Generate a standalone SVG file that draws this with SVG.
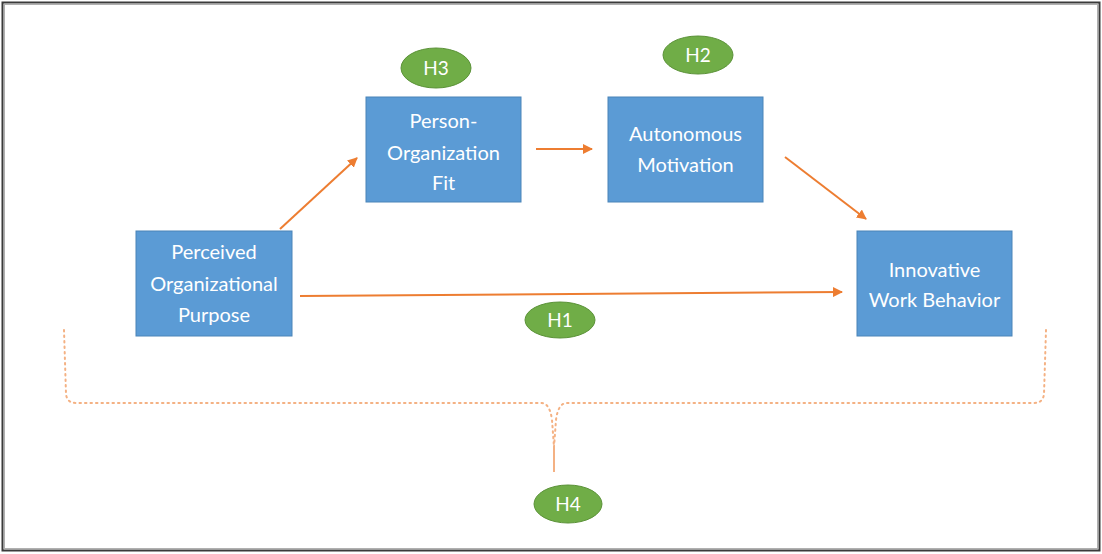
<svg xmlns="http://www.w3.org/2000/svg" width="1102" height="554" viewBox="0 0 1102 554">
  <style>
    .box { fill: #5b9bd5; stroke: #4a84b8; stroke-width: 1; }
    .box-label { fill: #ffffff; font-family: Lato, "Open Sans", sans-serif; font-size: 20px; text-anchor: middle; }
    .hyp { fill: #70ad47; stroke: #5b9238; stroke-width: 1; }
    .hyp-label { fill: #ffffff; font-family: Lato, "Open Sans", sans-serif; font-size: 19px; text-anchor: middle; }
    .link { stroke: #ed7d31; stroke-width: 2; fill: none; marker-end: url(#arrow); }
    .brace { stroke: #f4b183; stroke-width: 2; fill: none; stroke-dasharray: 1.5 4; stroke-linecap: round; }
  </style>
  <defs>
    <marker id="arrow" viewBox="0 0 10 10" refX="9" refY="5" markerWidth="5" markerHeight="5" orient="auto">
      <path d="M0,0 L10,5 L0,10 z" fill="#ed7d31"/>
    </marker>
  </defs>

  <!-- frame -->
  <rect x="0" y="0" width="1102" height="554" fill="#ffffff"/>
  <rect x="2.5" y="2.5" width="1097" height="548" fill="none" stroke="#3a3a3a" stroke-width="2"/>
  <rect x="4.5" y="4.5" width="1093" height="544" fill="none" stroke="#b0b0b0" stroke-width="1"/>

  <!-- connectors -->
  <g id="connectors">
    <line class="link" x1="280" y1="229" x2="357" y2="158"/>
    <line class="link" x1="536" y1="149" x2="592" y2="149"/>
    <line class="link" x1="785" y1="157" x2="866" y2="219"/>
    <line class="link" x1="300" y1="296" x2="842" y2="292"/>
    <path class="brace" d="M64,330 L66,394 Q67,403 76,403 L542,403 Q550,404 552,420 L554,447"/>
    <path class="brace" d="M1046,330 L1044,394 Q1043,403 1034,403 L566,403 Q558,404 556,420 L554,447"/>
    <line x1="554" y1="447" x2="554" y2="472" stroke="#f4b183" stroke-width="2"/>
  </g>

  <!-- nodes -->
  <g id="node-pop">
    <rect class="box" x="136" y="231" width="156" height="105"/>
    <text class="box-label" x="214" y="259">Perceived</text>
    <text class="box-label" x="214" y="291">Organizational</text>
    <text class="box-label" x="214" y="322">Purpose</text>
  </g>
  <g id="node-pof">
    <rect class="box" x="366" y="97" width="155" height="105"/>
    <text class="box-label" x="443.5" y="128">Person-</text>
    <text class="box-label" x="443.5" y="160">Organization</text>
    <text class="box-label" x="443.5" y="190">Fit</text>
  </g>
  <g id="node-am">
    <rect class="box" x="608" y="97" width="155" height="105"/>
    <text class="box-label" x="685.5" y="141">Autonomous</text>
    <text class="box-label" x="685.5" y="172">Motivation</text>
  </g>
  <g id="node-iwb">
    <rect class="box" x="857" y="231" width="155" height="105"/>
    <text class="box-label" x="934.5" y="277">Innovative</text>
    <text class="box-label" x="934.5" y="307">Work Behavior</text>
  </g>

  <g id="hyp-h3">
    <ellipse class="hyp" cx="436" cy="68" rx="35" ry="20"/>
    <text class="hyp-label" x="436" y="75">H3</text>
  </g>
  <g id="hyp-h2">
    <ellipse class="hyp" cx="698" cy="55" rx="35" ry="19"/>
    <text class="hyp-label" x="698" y="62">H2</text>
  </g>
  <g id="hyp-h1">
    <ellipse class="hyp" cx="560" cy="320" rx="35" ry="18"/>
    <text class="hyp-label" x="560" y="327">H1</text>
  </g>
  <g id="hyp-h4">
    <ellipse class="hyp" cx="568" cy="504" rx="34" ry="19"/>
    <text class="hyp-label" x="568" y="511">H4</text>
  </g>
</svg>
